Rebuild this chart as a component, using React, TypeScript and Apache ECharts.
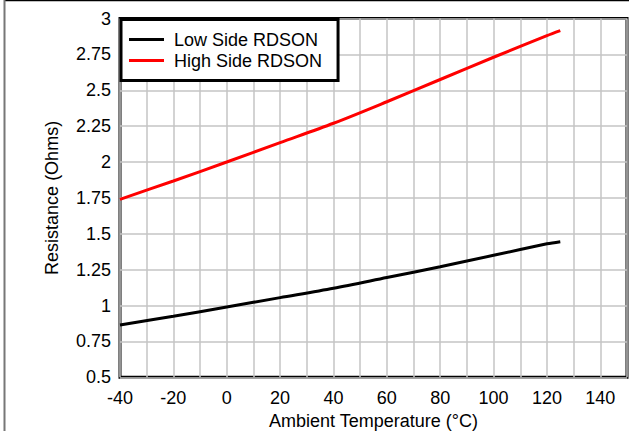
import React, { useEffect, useRef } from "react";
import * as echarts from "echarts";

const temps = [-40, -20, 0, 20, 40, 60, 80, 100, 120, 125];
const lowSide = [0.865, 0.925, 0.99, 1.055, 1.12, 1.195, 1.27, 1.35, 1.43, 1.445];
const highSide = [1.74, 1.868, 2.0, 2.135, 2.27, 2.42, 2.575, 2.73, 2.88, 2.915];
const seriesNames = ["Low Side RDSON", "High Side RDSON"];
const xName = "Ambient Temperature (°C)";
const yName = "Resistance (Ohms)";

const FONT = "'Liberation Sans', Arial, sans-serif";

export default function App() {
  const ref = useRef<HTMLDivElement>(null);
  useEffect(() => {
    if (!ref.current) return;
    const chart = echarts.init(ref.current, undefined, { renderer: "svg" });
    const toPairs = (ys: number[]) => temps.map((t, i) => [t, ys[i]]);
    chart.setOption({
      animation: false,
      backgroundColor: "#fff",
      textStyle: { fontFamily: FONT },
      grid: {
        left: 120,
        right: 2,
        top: 18.5,
        bottom: 53.7,
        containLabel: false,
        outerBoundsMode: "none",
        show: true,
        borderColor: "#000",
        borderWidth: 3,
        backgroundColor: "transparent",
      },
      xAxis: {
        type: "value",
        min: -40,
        max: 150,
        interval: 10,
        name: xName,
        nameLocation: "middle",
        nameGap: 33,
        nameTextStyle: { fontSize: 18, color: "#000", fontFamily: FONT },
        axisLine: { show: false },
        axisTick: { show: false },
        axisLabel: {
          fontSize: 18,
          color: "#000",
          fontFamily: FONT,
          margin: 12,
          formatter: (v: number) => (Math.round(v) % 20 === 0 ? String(v) : ""),
        },
        splitLine: { show: true, lineStyle: { color: "#c4c4c4", width: 1.5 } },
      },
      yAxis: {
        type: "value",
        min: 0.5,
        max: 3,
        interval: 0.25,
        name: yName,
        nameLocation: "middle",
        nameGap: 59,
        nameTextStyle: { fontSize: 18, color: "#000", fontFamily: FONT },
        axisLine: { show: false },
        axisTick: { show: false },
        axisLabel: { fontSize: 18, color: "#000", fontFamily: FONT, margin: 9 },
        splitLine: { show: true, lineStyle: { color: "#c4c4c4", width: 1.5 } },
      },
      legend: {
        orient: "vertical",
        left: 121,
        top: 19.5,
        padding: [11, 16, 11, 8],
        itemGap: 3,
        itemWidth: 35,
        itemHeight: 3,
        icon: "rect",
        backgroundColor: "#fff",
        borderColor: "#000",
        borderWidth: 3,
        borderRadius: 0,
        textStyle: { fontSize: 18, color: "#000", fontFamily: FONT, lineHeight: 18, padding: [0, 0, 0, 5] },
        data: seriesNames,
      },
      graphic: [
        { type: "line", shape: { x1: 4, y1: 0.5, x2: 629, y2: 0.5 }, style: { stroke: "#000", lineWidth: 1.5 } },
        { type: "line", shape: { x1: 4.5, y1: 0, x2: 4.5, y2: 431 }, style: { stroke: "#777", lineWidth: 2 } },
      ],
      series: [
        {
          name: seriesNames[0],
          type: "line",
          data: toPairs(lowSide),
          showSymbol: false,
          symbol: "none",
          smooth: 0.3,
          lineStyle: { color: "#000", width: 3 },
          itemStyle: { color: "#000" },
        },
        {
          name: seriesNames[1],
          type: "line",
          data: toPairs(highSide),
          showSymbol: false,
          symbol: "none",
          smooth: 0.3,
          lineStyle: { color: "#ff0000", width: 3 },
          itemStyle: { color: "#ff0000" },
        },
      ],
    });
    return () => chart.dispose();
  }, []);
  return (
    <div
      ref={ref}
      style={{ position: "fixed", left: 0, top: 0, width: 629, height: 431 }}
    />
  );
}
